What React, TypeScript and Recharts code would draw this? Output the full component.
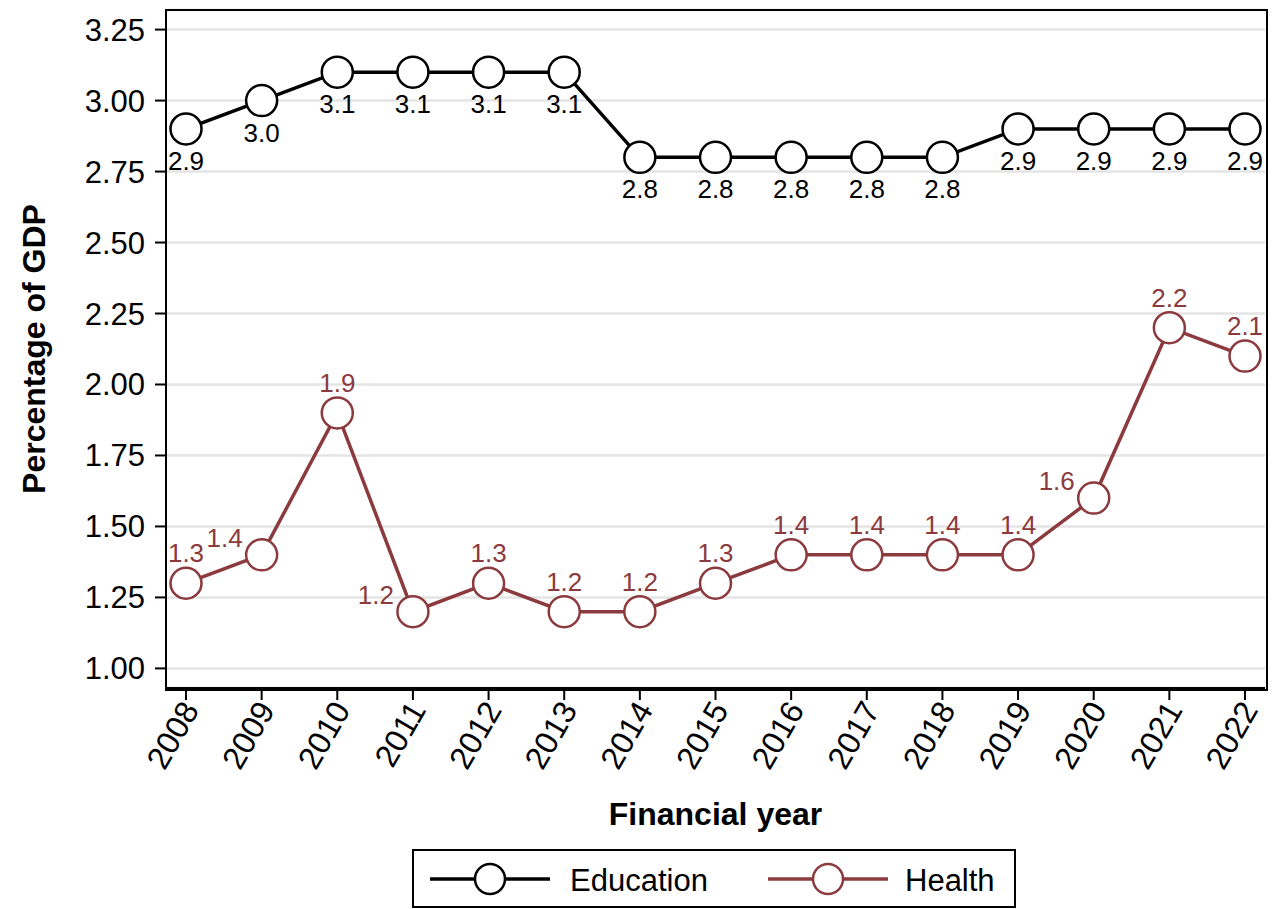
import React from 'react';
import {
  LineChart,
  Line,
  XAxis,
  YAxis,
  CartesianGrid,
  LabelList,
  Label,
} from 'recharts';

const years = ['2008', '2009', '2010', '2011', '2012', '2013', '2014', '2015', '2016', '2017', '2018', '2019', '2020', '2021', '2022'];
const education = [2.9, 3.0, 3.1, 3.1, 3.1, 3.1, 2.8, 2.8, 2.8, 2.8, 2.8, 2.9, 2.9, 2.9, 2.9];
const health = [1.3, 1.4, 1.9, 1.2, 1.3, 1.2, 1.2, 1.3, 1.4, 1.4, 1.4, 1.4, 1.6, 2.2, 2.1];
// clock position of each health marker label (12 = above, 10 = upper left)
const healthLabelPos = [12, 10, 12, 10, 12, 12, 12, 12, 12, 12, 12, 12, 10, 12, 12];
const yTicks = [1.0, 1.25, 1.5, 1.75, 2.0, 2.25, 2.5, 2.75, 3.0, 3.25];

const FONT = '"Liberation Sans", Arial, Helvetica, sans-serif';
const EDU = '#000000';
const HEALTH = '#8b3a3e';

const data = years.map((year, i) => ({
  year,
  education: education[i],
  health: health[i],
}));

const YearTick = ({ x, y, payload }: any) => (
  <g transform={`translate(${x + 4},${y})`}>
    <text
      transform="rotate(-60)"
      textAnchor="end"
      dy="0.36em"
      fontSize={32}
      fontFamily={FONT}
      fill="#000"
    >
      {payload.value}
    </text>
  </g>
);

const EduLabel = ({ x, y, value }: any) => (
  <text
    x={x}
    y={y + 32}
    textAnchor="middle"
    dominantBaseline="central"
    fontSize={26}
    fontFamily={FONT}
    fill={EDU}
  >
    {Number(value).toFixed(1)}
  </text>
);

const HealthLabel = ({ x, y, value, index }: any) => {
  const left = healthLabelPos[index] === 10;
  return (
    <text
      x={left ? x - 37 : x}
      y={left ? y - 17 : y - 30}
      textAnchor="middle"
      dominantBaseline="central"
      fontSize={26}
      fontFamily={FONT}
      fill={HEALTH}
    >
      {Number(value).toFixed(1)}
    </text>
  );
};

const LegendBox = () => (
  <svg
    width={604}
    height={59}
    style={{ position: 'absolute', left: 412, top: 849 }}
  >
    <rect x={1} y={1} width={602} height={57} fill="#fff" stroke="#000" strokeWidth={2} />
    <line x1={18} x2={138} y1={30} y2={30} stroke={EDU} strokeWidth={3.5} />
    <circle cx={78} cy={30} r={15} fill="#fff" stroke={EDU} strokeWidth={2.5} />
    <text x={158} y={31} dominantBaseline="central" fontSize={31} fontFamily={FONT} fill="#000">
      Education
    </text>
    <line x1={356} x2={476} y1={30} y2={30} stroke={HEALTH} strokeWidth={3.5} />
    <circle cx={416} cy={30} r={15} fill="#fff" stroke={HEALTH} strokeWidth={2.5} />
    <text x={493} y={31} dominantBaseline="central" fontSize={31} fontFamily={FONT} fill="#000">
      Health
    </text>
  </svg>
);

export default function App() {
  return (
    <div
      style={{
        position: 'absolute',
        left: 0,
        top: 0,
        width: 1276,
        height: 909,
        background: '#fff',
        fontFamily: FONT,
      }}
    >
      <LineChart
        width={1276}
        height={909}
        data={data}
        margin={{ top: 10, right: 11, bottom: 0, left: 0 }}
      >
        <CartesianGrid vertical={false} stroke="#e4e4e4" strokeWidth={2.5} />
        <XAxis
          dataKey="year"
          height={221}
          padding={{ left: 20, right: 20 }}
          tick={<YearTick />}
          tickSize={12}
          tickMargin={4}
          interval={0}
          axisLine={{ stroke: '#000', strokeWidth: 2 }}
          tickLine={{ stroke: '#000', strokeWidth: 2 }}
        >
          <Label
            content={({ viewBox }: any) => (
              <text
                x={viewBox.x + viewBox.width / 2}
                y={viewBox.y + 126}
                textAnchor="middle"
                dominantBaseline="central"
                fontSize={32}
                fontWeight="bold"
                fontFamily={FONT}
                fill="#000"
              >
                Financial year
              </text>
            )}
          />
        </XAxis>
        <YAxis
          width={166}
          type="number"
          domain={[0.931, 3.319]}
          ticks={yTicks}
          interval={0}
          tickFormatter={(v: number) => v.toFixed(2)}
          tick={{ fontSize: 31, fill: '#000', fontFamily: FONT }}
          tickSize={11}
          tickMargin={10}
          axisLine={{ stroke: '#000', strokeWidth: 2 }}
          tickLine={{ stroke: '#000', strokeWidth: 2 }}
        >
          <Label
            content={({ viewBox }: any) => (
              <text
                x={viewBox.x + 34}
                y={viewBox.y + viewBox.height / 2}
                transform={`rotate(-90, ${viewBox.x + 34}, ${viewBox.y + viewBox.height / 2})`}
                textAnchor="middle"
                dominantBaseline="central"
                fontSize={32}
                fontWeight="bold"
                fontFamily={FONT}
                fill="#000"
              >
                Percentage of GDP
              </text>
            )}
          />
        </YAxis>
        <Line
          type="linear"
          dataKey="education"
          stroke={EDU}
          strokeWidth={3.5}
          dot={{ r: 15.5, fill: '#fff', stroke: EDU, strokeWidth: 2.5 }}
          activeDot={false}
          isAnimationActive={false}
        >
          <LabelList dataKey="education" content={<EduLabel />} />
        </Line>
        <Line
          type="linear"
          dataKey="health"
          stroke={HEALTH}
          strokeWidth={3.5}
          dot={{ r: 15.5, fill: '#fff', stroke: HEALTH, strokeWidth: 2.5 }}
          activeDot={false}
          isAnimationActive={false}
        >
          <LabelList dataKey="health" content={<HealthLabel />} />
        </Line>
      </LineChart>
      {/* plot frame (top and right edges) */}
      <div
        style={{
          position: 'absolute',
          left: 165,
          top: 9,
          width: 1099,
          height: 678,
          border: '2px solid #000',
          pointerEvents: 'none',
        }}
      />
      <LegendBox />
    </div>
  );
}
